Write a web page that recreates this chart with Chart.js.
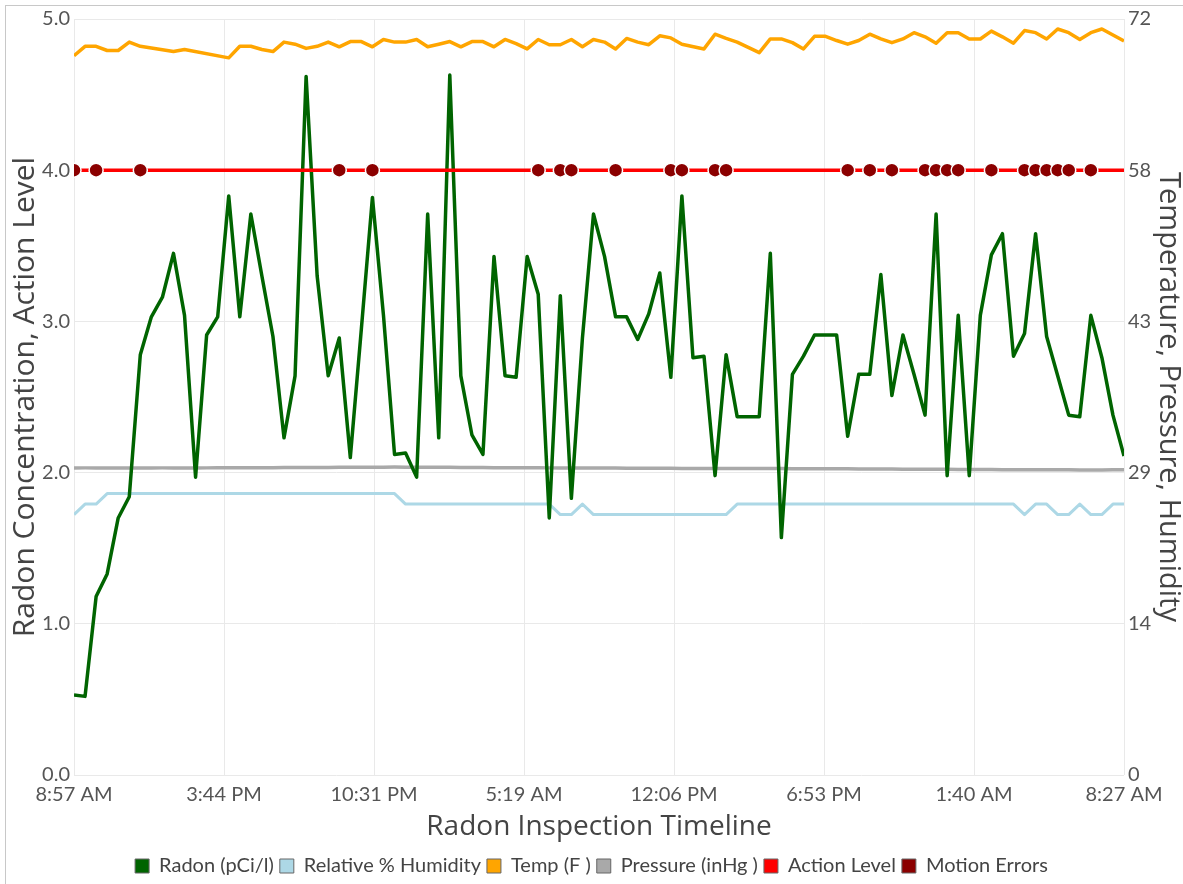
<!DOCTYPE html>
<html>
<head>
<meta charset="utf-8">
<title>Radon Inspection Timeline</title>
<script src="https://cdn.jsdelivr.net/npm/chart.js@4.4.1/dist/chart.umd.min.js"></script>
<style>
    html, body { margin: 0; padding: 0; background: #fff; }
    #wrap { position: relative; width: 1183px; height: 884px; }
    #frame { position: absolute; left: 5px; top: 5px; right: 0; bottom: 0; border-top: 1px solid #c8c8c8; border-left: 1px solid #c8c8c8; }
    #chart { position: absolute; left: 0; top: 0; }
</style>
</head>
<body>
<div id="wrap">
    <div id="frame"></div>
    <canvas id="chart" width="1183" height="884"></canvas>
</div>
<script>
// Time axis labels (readings every 30 min, labels spread evenly over the span)
const timeLabels = ['8:57 AM', '3:44 PM', '10:31 PM', '5:19 AM', '12:06 PM', '6:53 PM', '1:40 AM', '8:27 AM'];

// Radon (pCi/l), one reading per half hour
const radon = [
    0.53, 0.52, 1.18, 1.33, 1.70, 1.84, 2.78, 3.03, 3.16, 3.45,
    3.04, 1.97, 2.91, 3.03, 3.83, 3.03, 3.71, 3.30, 2.90, 2.23,
    2.64, 4.62, 3.30, 2.64, 2.89, 2.10, 2.95, 3.82, 3.04, 2.12,
    2.13, 1.97, 3.71, 2.23, 4.63, 2.64, 2.25, 2.12, 3.43, 2.64,
    2.63, 3.43, 3.18, 1.70, 3.17, 1.83, 2.89, 3.71, 3.43, 3.03,
    3.03, 2.88, 3.05, 3.32, 2.63, 3.83, 2.76, 2.77, 1.98, 2.78,
    2.37, 2.37, 2.37, 3.45, 1.57, 2.65, 2.77, 2.91, 2.91, 2.91,
    2.24, 2.65, 2.65, 3.31, 2.51, 2.91, 2.65, 2.38, 3.71, 1.98,
    3.04, 1.98, 3.04, 3.44, 3.58, 2.77, 2.92, 3.58, 2.90, 2.64,
    2.38, 2.37, 3.04, 2.76, 2.38, 2.11
];

// Relative humidity (%)
const humidity = [
    24.8, 25.8, 25.8, 26.8, 26.8, 26.8, 26.8, 26.8, 26.8, 26.8,
    26.8, 26.8, 26.8, 26.8, 26.8, 26.8, 26.8, 26.8, 26.8, 26.8,
    26.8, 26.8, 26.8, 26.8, 26.8, 26.8, 26.8, 26.8, 26.8, 26.8,
    25.8, 25.8, 25.8, 25.8, 25.8, 25.8, 25.8, 25.8, 25.8, 25.8,
    25.8, 25.8, 25.8, 25.8, 24.8, 24.8, 25.8, 24.8, 24.8, 24.8,
    24.8, 24.8, 24.8, 24.8, 24.8, 24.8, 24.8, 24.8, 24.8, 24.8,
    25.8, 25.8, 25.8, 25.8, 25.8, 25.8, 25.8, 25.8, 25.8, 25.8,
    25.8, 25.8, 25.8, 25.8, 25.8, 25.8, 25.8, 25.8, 25.8, 25.8,
    25.8, 25.8, 25.8, 25.8, 25.8, 25.8, 24.8, 25.8, 25.8, 24.8,
    24.8, 25.8, 24.8, 24.8, 25.8, 25.8
];

// Temperature (F), null = no reading
const temperature = [
    68.5, 69.4, 69.4, 69.0, 69.0, 69.8, 69.4, null, null, 68.9,
    69.1, null, null, null, 68.3, 69.4, 69.4, 69.1, 68.9, 69.8,
    69.6, 69.2, 69.4, 69.8, 69.35, 69.85, 69.85, 69.35, 70.05, 69.8,
    69.8, 70.05, 69.35, 69.6, 69.85, 69.35, 69.85, 69.85, 69.35, 70.05,
    69.65, 69.15, 70.05, 69.55, 69.55, 70.05, 69.35, 70.05, 69.8, 69.15,
    70.15, 69.8, 69.55, 70.4, 70.2, 69.6, null, 69.15, 70.55, 70.15,
    69.8, 69.3, 68.8, 70.1, 70.1, 69.75, 69.15, 70.35, 70.35, 69.95,
    69.6, 69.95, 70.55, 70.1, 69.75, 70.1, 70.7, 70.3, 69.7, 70.7,
    70.7, 70.1, 70.1, 70.85, 70.3, 69.7, 70.9, 70.7, 70.1, 71.05,
    70.7, 70.05, 70.7, 71.05, null, 69.9
];

// Pressure (inHg)
const pressure = [
    29.24, 29.25, 29.25, 29.24, 29.23, 29.23, 29.24, 29.24, 29.25, 29.25,
    29.24, 29.24, 29.25, 29.26, 29.26, 29.26, 29.27, 29.27, 29.27, 29.28,
    29.28, 29.28, 29.29, 29.29, 29.30, 29.30, 29.31, 29.32, 29.32, 29.33,
    29.32, 29.32, 29.31, 29.30, 29.30, 29.29, 29.29, 29.28, 29.27, 29.27,
    29.27, 29.26, 29.26, 29.25, 29.25, 29.24, 29.24, 29.23, 29.23, 29.23,
    29.22, 29.22, 29.21, 29.21, 29.21, 29.20, 29.20, 29.20, 29.19, 29.19,
    29.19, 29.19, 29.18, 29.18, 29.18, 29.17, 29.17, 29.17, 29.16, 29.16,
    29.16, 29.15, 29.15, 29.14, 29.14, 29.13, 29.12, 29.12, 29.11, 29.11,
    29.10, 29.10, 29.09, 29.09, 29.08, 29.07, 29.06, 29.06, 29.06, 29.06,
    29.06, 29.05, 29.05, 29.05, 29.06, 29.06
];

const actionLevel = 4.0;

// Reading indices where a motion error was flagged
const motionErrors = [0, 2, 6, 24, 27, 42, 44, 45, 49, 54, 55, 58, 59, 70, 72, 74, 77, 78, 79, 80, 83, 86, 87, 88, 89, 90, 92];

const lastIdx = radon.length - 1;
const toPoints = arr => arr.map((v, i) => ({ x: i, y: v }));

const tickFont = { family: 'Lato, "Open Sans", sans-serif', size: 20 };
const titleFamily = '"Open Sans", Lato, sans-serif';
const gridColor = '#e9e9e9';

Chart.defaults.font.family = 'Lato, "Open Sans", sans-serif';

const ctx = document.getElementById('chart').getContext('2d');
new Chart(ctx, {
    type: 'line',
    data: {
        datasets: [
            {
                label: 'Radon (pCi/l)',
                data: toPoints(radon),
                yAxisID: 'y',
                borderColor: '#006400',
                backgroundColor: '#006400',
                borderWidth: 3.5,
                order: 2
            },
            {
                label: 'Relative % Humidity',
                data: toPoints(humidity),
                yAxisID: 'y2',
                borderColor: '#ADD8E6',
                backgroundColor: '#ADD8E6',
                borderWidth: 3,
                order: 4
            },
            {
                label: 'Temp (F )',
                data: toPoints(temperature),
                yAxisID: 'y2',
                borderColor: '#FFA500',
                backgroundColor: '#FFA500',
                borderWidth: 3.5,
                spanGaps: true,
                order: 3
            },
            {
                label: 'Pressure (inHg )',
                data: toPoints(pressure),
                yAxisID: 'y2',
                borderColor: '#A9A9A9',
                backgroundColor: '#A9A9A9',
                borderWidth: 3.5,
                order: 5
            },
            {
                label: 'Action Level',
                data: [{ x: 0, y: actionLevel }, { x: lastIdx, y: actionLevel }],
                yAxisID: 'y',
                borderColor: '#FF0000',
                backgroundColor: '#FF0000',
                borderWidth: 3.5,
                order: 1
            },
            {
                label: 'Motion Errors',
                data: motionErrors.map(i => ({ x: i, y: actionLevel })),
                yAxisID: 'y',
                showLine: false,
                borderColor: '#8B0000',
                backgroundColor: '#8B0000',
                pointRadius: 7,
                pointBackgroundColor: '#8B0000',
                pointBorderColor: '#ffffff',
                pointBorderWidth: 1.5,
                order: 0
            }
        ]
    },
    options: {
        responsive: false,
        animation: false,
        layout: { padding: { top: 19, bottom: -2 } },
        elements: {
            point: { radius: 0 },
            line: { tension: 0, borderJoinStyle: 'round' }
        },
        scales: {
            x: {
                type: 'linear',
                min: 0,
                max: lastIdx,
                afterBuildTicks: scale => {
                    scale.ticks = timeLabels.map((_, k) => ({ value: lastIdx * k / (timeLabels.length - 1) }));
                },
                afterFit: scale => { scale.height = 75; },
                grid: { color: gridColor, drawTicks: false },
                border: { display: false },
                ticks: {
                    autoSkip: false,
                    maxRotation: 0,
                    padding: 8,
                    color: '#555',
                    font: tickFont,
                    callback: (value, index) => timeLabels[index]
                },
                title: {
                    display: true,
                    text: 'Radon Inspection Timeline',
                    color: '#444',
                    font: { family: titleFamily, size: 28 },
                    padding: { top: 0, bottom: 6 }
                }
            },
            y: {
                position: 'left',
                min: 0,
                max: 5,
                afterFit: scale => { scale.width = 74; },
                grid: { color: gridColor, drawTicks: false },
                border: { display: false },
                ticks: {
                    stepSize: 1,
                    padding: 4,
                    color: '#555',
                    font: tickFont,
                    callback: v => v.toFixed(1)
                },
                title: {
                    display: true,
                    text: 'Radon Concentration, Action Level',
                    color: '#444',
                    font: { family: titleFamily, size: 30 },
                    padding: { top: 7, bottom: 0 }
                }
            },
            y2: {
                position: 'right',
                min: 0,
                max: 72,
                afterFit: scale => { scale.width = 59; },
                grid: { drawOnChartArea: false, drawTicks: false },
                border: { display: false },
                ticks: {
                    count: 6,
                    padding: 4,
                    color: '#555',
                    font: tickFont,
                    callback: v => Math.round(v)
                },
                title: {
                    display: true,
                    text: 'Temperature, Pressure, Humidity',
                    color: '#444',
                    font: { family: titleFamily, size: 29 },
                    padding: { top: -3, bottom: 0 }
                }
            }
        },
        plugins: {
            tooltip: { enabled: false },
            legend: {
                position: 'bottom',
                labels: {
                    boxWidth: 14,
                    boxHeight: 14,
                    padding: 6,
                    color: '#444',
                    font: tickFont,
                    sort: (a, b) => a.datasetIndex - b.datasetIndex,
                    generateLabels: chart => Chart.defaults.plugins.legend.labels.generateLabels(chart).map(item => {
                        item.strokeStyle = '#666';
                        item.lineWidth = 1;
                        return item;
                    })
                }
            }
        }
    }
});
</script>
</body>
</html>
